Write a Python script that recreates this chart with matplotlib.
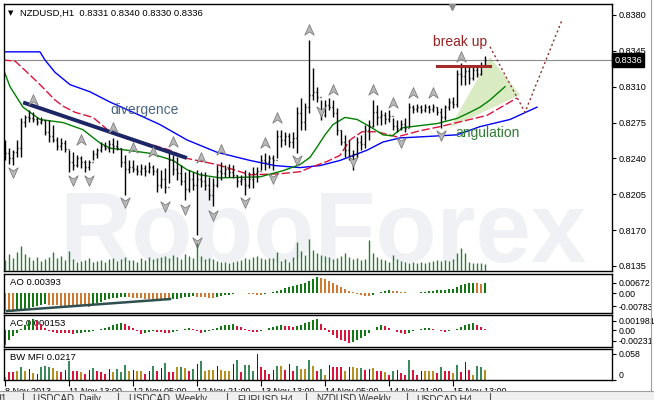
import numpy as np
import matplotlib.pyplot as plt
from matplotlib.path import Path
from matplotlib.patches import Polygon, Rectangle
from matplotlib.lines import Line2D
from matplotlib.transforms import blended_transform_factory

plt.rcParams['font.family'] = ['Liberation Sans', 'DejaVu Sans']

# NZDUSD H1, 121 bars
first_open = 0.8250
highs = [0.8258, 0.8250, 0.8248, 0.8258, 0.8279, 0.8282, 0.8287, 0.8285, 0.8280, 0.8280,
         0.8277, 0.8277, 0.8273, 0.8261, 0.8260, 0.8258, 0.8248, 0.8246, 0.8243, 0.8242,
         0.8238, 0.8238, 0.8248, 0.8250, 0.8256, 0.8256, 0.8258, 0.8260, 0.8258, 0.8250,
         0.8243, 0.8238, 0.8238, 0.8234, 0.8235, 0.8234, 0.8236, 0.8234, 0.8231, 0.8229,
         0.8231, 0.8245, 0.8243, 0.8241, 0.8234, 0.8227, 0.8229, 0.8227, 0.8229, 0.8227,
         0.8227, 0.8222, 0.8221, 0.8234, 0.8236, 0.8234, 0.8235, 0.8234, 0.8224, 0.8224,
         0.8229, 0.8227, 0.8232, 0.8232, 0.8243, 0.8245, 0.8243, 0.8243, 0.8268, 0.8268,
         0.8266, 0.8265, 0.8266, 0.8290, 0.8299, 0.8294, 0.8356, 0.8328, 0.8310, 0.8297,
         0.8297, 0.8299, 0.8297, 0.8289, 0.8268, 0.8263, 0.8258, 0.8248, 0.8261, 0.8263,
         0.8273, 0.8277, 0.8297, 0.8292, 0.8287, 0.8285, 0.8287, 0.8279, 0.8277, 0.8277,
         0.8279, 0.8294, 0.8292, 0.8293, 0.8292, 0.8293, 0.8292, 0.8293, 0.8290, 0.8289,
         0.8292, 0.8299, 0.8300, 0.8326, 0.8333, 0.8331, 0.8331, 0.8331, 0.8331, 0.8334,
         0.8340]
lows = [0.8238, 0.8235, 0.8234, 0.8241, 0.8241, 0.8271, 0.8276, 0.8276, 0.8273, 0.8274,
        0.8263, 0.8256, 0.8256, 0.8248, 0.8248, 0.8246, 0.8227, 0.8229, 0.8232, 0.8231,
        0.8227, 0.8229, 0.8238, 0.8240, 0.8246, 0.8248, 0.8246, 0.8245, 0.8248, 0.8232,
        0.8204, 0.8226, 0.8227, 0.8224, 0.8224, 0.8223, 0.8226, 0.8224, 0.8207, 0.8211,
        0.8206, 0.8216, 0.8224, 0.8219, 0.8214, 0.8199, 0.8207, 0.8209, 0.8165, 0.8212,
        0.8209, 0.8199, 0.8194, 0.8212, 0.8219, 0.8222, 0.8222, 0.8221, 0.8212, 0.8214,
        0.8204, 0.8211, 0.8211, 0.8217, 0.8229, 0.8229, 0.8231, 0.8229, 0.8240, 0.8251,
        0.8253, 0.8251, 0.8250, 0.8245, 0.8268, 0.8268, 0.8284, 0.8297, 0.8295, 0.8277,
        0.8280, 0.8287, 0.8280, 0.8263, 0.8253, 0.8241, 0.8238, 0.8229, 0.8241, 0.8248,
        0.8250, 0.8258, 0.8271, 0.8273, 0.8273, 0.8274, 0.8276, 0.8268, 0.8266, 0.8268,
        0.8266, 0.8271, 0.8284, 0.8285, 0.8284, 0.8285, 0.8284, 0.8285, 0.8282, 0.8270,
        0.8277, 0.8287, 0.8289, 0.8290, 0.8312, 0.8312, 0.8313, 0.8317, 0.8319, 0.8321,
        0.8330]
closes = [0.8245, 0.8240, 0.8246, 0.8250, 0.8276, 0.8280, 0.8279, 0.8278, 0.8276, 0.8277,
          0.8266, 0.8262, 0.8258, 0.8252, 0.8255, 0.8249, 0.8236, 0.8234, 0.8240, 0.8236,
          0.8232, 0.8236, 0.8244, 0.8248, 0.8252, 0.8250, 0.8254, 0.8252, 0.8250, 0.8236,
          0.8230, 0.8232, 0.8230, 0.8228, 0.8231, 0.8228, 0.8232, 0.8228, 0.8214, 0.8220,
          0.8212, 0.8238, 0.8230, 0.8226, 0.8218, 0.8210, 0.8220, 0.8214, 0.8220, 0.8218,
          0.8214, 0.8204, 0.8214, 0.8228, 0.8226, 0.8230, 0.8227, 0.8224, 0.8218, 0.8220,
          0.8214, 0.8220, 0.8226, 0.8228, 0.8238, 0.8236, 0.8240, 0.8238, 0.8262, 0.8258,
          0.8262, 0.8256, 0.8260, 0.8284, 0.8276, 0.8290, 0.8302, 0.8305, 0.8300, 0.8282,
          0.8292, 0.8290, 0.8284, 0.8268, 0.8256, 0.8248, 0.8242, 0.8244, 0.8256, 0.8254,
          0.8268, 0.8272, 0.8285, 0.8280, 0.8282, 0.8278, 0.8281, 0.8272, 0.8270, 0.8274,
          0.8270, 0.8290, 0.8288, 0.8290, 0.8287, 0.8290, 0.8288, 0.8290, 0.8285, 0.8280,
          0.8290, 0.8295, 0.8293, 0.8322, 0.8320, 0.8325, 0.8318, 0.8326, 0.8322, 0.8331,
          0.8336]
volumes = [1100, 1700, 1300, 1900, 2500, 1700, 1400, 1100, 1400, 1000,
           1200, 1400, 1900, 1300, 1500, 1100, 2000, 1200, 900, 1000,
           1100, 1300, 900, 1000, 1100, 900, 1200, 1300, 1000, 1200,
           1400, 1100, 1100, 900, 1300, 1100, 1400, 1200, 1300, 1400,
           1500, 1300, 1600, 1400, 1200, 1700, 1500, 1300, 2800, 1500,
           1200, 1300, 1200, 1000, 900, 900, 800, 900, 1000, 1100,
           1300, 1200, 1400, 1500, 1300, 1200, 1300, 1300, 1900, 1000,
           1200, 900, 1400, 2900, 2000, 1600, 3200, 2100, 1800, 1600,
           1500, 1400, 1200, 1300, 1500, 1800, 1400, 1200, 1300, 1100,
           1200, 3100, 1800, 1400, 1200, 1100, 900, 1600, 1200, 1000,
           900, 800, 900, 800, 900, 800, 900, 1000, 1100, 1000,
           1100, 1000, 1200, 1800, 2300, 1800, 900, 800, 800, 800,
           700]

# alligator lines (shifted forward)
blue_x = [-0.5, 8.75, 10, 12.5, 16.25, 21.25, 26.25, 32, 38.75, 45.5, 53, 61.25,
          67.5, 73.75, 78.75, 83.75, 90.5, 94.5, 98.75, 103.75, 113, 118.75, 126.25, 133]
blue_y = [0.8344, 0.8344, 0.8336, 0.8324, 0.8312, 0.8305, 0.8295, 0.8285, 0.8273, 0.8258,
          0.8246, 0.8238, 0.8233, 0.8231, 0.8233, 0.8238, 0.8248, 0.8256, 0.8260, 0.8261,
          0.8263, 0.8271, 0.8278, 0.8290]
red_x = [-0.5, 2.5, 5, 8.75, 12.5, 14.5, 17.5, 22, 26.25, 31.25, 37, 41.25, 45.5, 53, 61.25,
         68.75, 73.75, 76.25, 80.5, 83.75, 86.25, 89.25, 93, 98, 103.75, 108.75, 113, 116.25,
         120.5, 128]
red_y = [0.8336, 0.8335, 0.8326, 0.8312, 0.8297, 0.8291, 0.8285, 0.8280, 0.8266, 0.8258,
         0.8253, 0.8248, 0.8240, 0.8234, 0.8224, 0.8225, 0.8227, 0.8231, 0.8237, 0.8243,
         0.8258, 0.8266, 0.8266, 0.8261, 0.8267, 0.8271, 0.8275, 0.8278, 0.8282, 0.8299]
green_x = [-0.5, 1.25, 4.5, 8.75, 14.5, 19.5, 23.75, 26.25, 30.5, 36.25, 42, 45.5, 48.75,
           53.75, 63.75, 69.5, 73.75, 76.25, 78, 80, 82, 85, 88, 91.25, 94.5, 96.75, 99.5,
           103.75, 108, 113, 116.25, 118.75, 121.25, 125]
green_y = [0.8328, 0.8310, 0.8290, 0.8278, 0.8275, 0.8268, 0.8255, 0.8250, 0.8248, 0.8245,
           0.8238, 0.8229, 0.8224, 0.8221, 0.8222, 0.8228, 0.8234, 0.8241, 0.8251, 0.8263,
           0.8273, 0.8280, 0.8278, 0.8271, 0.8263, 0.8262, 0.8270, 0.8272, 0.8274, 0.8279,
           0.8285, 0.8290, 0.8297, 0.8310]

# fractals
up_x = [7, 19, 27, 32, 37, 42, 49, 54, 65, 68, 76, 82, 92, 97, 102, 107, 114]
up_y = [0.8297, 0.8258, 0.8270, 0.8250, 0.8246, 0.8256, 0.8240, 0.8248, 0.8255, 0.8279,
        0.8365, 0.8307, 0.8307, 0.8294, 0.8304, 0.8304, 0.8339]
dn_x = [2, 17, 21, 30, 40, 45, 48, 52, 60, 67, 73, 79, 87, 99, 109]
dn_y = [0.8227, 0.8219, 0.8219, 0.8197, 0.8194, 0.8191, 0.8158, 0.8185, 0.8197, 0.8221,
        0.8238, 0.8286, 0.8237, 0.8256, 0.8263]

# indicators
ao = [-0.0112, -0.0115, -0.0116, -0.0112, -0.0105, -0.0099, -0.0093, -0.0087, -0.0081, -0.0074,
      -0.0068, -0.0070, -0.0072, -0.0074, -0.0075, -0.0076, -0.0077, -0.0078, -0.0079, -0.0080,
      -0.0081, -0.0082, -0.0072, -0.0062, -0.0052, -0.0043, -0.0036, -0.0030, -0.0026, -0.0023,
      -0.0020, -0.0023, -0.0026, -0.0029, -0.0031, -0.0033, -0.0035, -0.0037, -0.0038, -0.0039,
      -0.0040, -0.0041, -0.0037, -0.0032, -0.0028, -0.0025, -0.0022, -0.0019, -0.0021, -0.0023,
      -0.0025, -0.0026, -0.0027, -0.0022, -0.0017, -0.0012, -0.0007, -0.0003, 0.0003, 0.0002,
      0.0000, -0.0003, -0.0006, -0.0009, -0.0012, -0.0006, 0.0003, 0.0009, 0.0016, 0.0022,
      0.0031, 0.0037, 0.0043, 0.0050, 0.0056, 0.0065, 0.0074, 0.0087, 0.0099, 0.0096,
      0.0087, 0.0078, 0.0065, 0.0053, 0.0040, 0.0028, 0.0016, 0.0006, -0.0003, -0.0009,
      -0.0015, -0.0018, -0.0009, 0.0000, 0.0009, 0.0016, 0.0019, 0.0016, 0.0012, 0.0009,
      0.0006, 0.0005, 0.0004, 0.0003, 0.0006, 0.0009, 0.0012, 0.0016, 0.0019, 0.0021,
      0.0023, 0.0025, 0.0028, 0.0037, 0.0050, 0.0056, 0.0062, 0.0064, 0.0062, 0.0061,
      0.0063]
ac = [-0.00330, -0.00220, -0.00132, -0.00066, 0.00022, 0.00110, 0.00198, 0.00242, 0.00198, 0.00132,
      0.00044, -0.00022, -0.00044, -0.00055, -0.00066, -0.00070, -0.00075, -0.00077, -0.00066, -0.00055,
      -0.00044, -0.00033, -0.00011, 0.00011, 0.00033, 0.00055, 0.00077, 0.00110, 0.00143, 0.00165,
      0.00132, 0.00088, 0.00044, -0.00022, -0.00088, -0.00066, -0.00044, -0.00022, -0.00033, -0.00044,
      -0.00055, -0.00066, -0.00044, -0.00022, 0.00011, 0.00033, 0.00055, 0.00033, -0.00011, -0.00066,
      -0.00044, -0.00011, 0.00022, 0.00055, 0.00088, 0.00110, 0.00121, 0.00132, 0.00099, 0.00066,
      0.00022, -0.00022, -0.00033, -0.00044, -0.00022, 0.00011, 0.00044, 0.00066, 0.00088, 0.00110,
      0.00099, 0.00088, 0.00066, 0.00088, 0.00121, 0.00154, 0.00187, 0.00220, 0.00242, 0.00132,
      0.00044, -0.00044, -0.00110, -0.00176, -0.00220, -0.00242, -0.00275, -0.00264, -0.00220, -0.00176,
      -0.00121, -0.00066, 0.00000, 0.00066, 0.00110, 0.00088, 0.00055, 0.00011, -0.00033, -0.00066,
      -0.00077, -0.00055, -0.00022, 0.00000, 0.00033, 0.00044, 0.00055, 0.00033, 0.00011, -0.00011,
      -0.00033, -0.00022, 0.00000, 0.00033, 0.00077, 0.00121, 0.00143, 0.00154, 0.00110, 0.00066,
      0.00022]
mfi = [0.007, 0.018, 0.018, 0.020, 0.029, 0.020, 0.025, 0.016, 0.013, 0.029,
       0.031, 0.029, 0.027, 0.020, 0.018, 0.022, 0.042, 0.020, 0.020, 0.018,
       0.013, 0.022, 0.027, 0.020, 0.018, 0.013, 0.025, 0.018, 0.025, 0.018,
       0.033, 0.020, 0.022, 0.020, 0.020, 0.013, 0.020, 0.031, 0.020, 0.027,
       0.038, 0.018, 0.018, 0.029, 0.029, 0.027, 0.020, 0.025, 0.036, 0.042,
       0.020, 0.022, 0.022, 0.031, 0.022, 0.020, 0.020, 0.036, 0.045, 0.018,
       0.033, 0.033, 0.020, 0.058, 0.029, 0.022, 0.013, 0.022, 0.031, 0.031,
       0.022, 0.036, 0.020, 0.031, 0.025, 0.025, 0.045, 0.031, 0.020, 0.025,
       0.011, 0.033, 0.029, 0.029, 0.029, 0.020, 0.029, 0.029, 0.027, 0.027,
       0.022, 0.025, 0.027, 0.020, 0.020, 0.018, 0.011, 0.020, 0.022, 0.016,
       0.011, 0.045, 0.022, 0.011, 0.020, 0.020, 0.020, 0.020, 0.016, 0.029,
       0.020, 0.020, 0.016, 0.033, 0.018, 0.040, 0.022, 0.011, 0.031, 0.029,
       0.022]
# g = green, o = fade, b = fake, r = squat, x = first bar
mfi_codes = ("xrrogobobg" "ggoorbgrro" "rbgrrrbogg" "goboorbgrb" "grrogorgbg"
             "ooobooobgr" "gggbrrrbgo" "rbrgoogorg" "obrrroboog" "rborrorgbr"
             "rgrrbooorg" "rrogrbrogg" "o")

date_ticks = [0, 16, 32, 48, 64, 80, 96, 112]
date_labels = ['8 Nov 2013', '11 Nov 13:00', '12 Nov 05:00', '12 Nov 21:00',
               '13 Nov 13:00', '14 Nov 05:00', '14 Nov 21:00', '15 Nov 13:00']
price_ticks = [0.8135, 0.8170, 0.8205, 0.8240, 0.8275, 0.8310, 0.8345, 0.8380]
tabs = ['H1', 'USDCAD, Daily', 'USDCAD, Weekly', 'EURUSD,H4', 'NZDUSD,Weekly', 'USDCAD,H4']

W, H = 654, 400
fig = plt.figure(figsize=(W / 100, H / 100), dpi=100)
fig.patch.set_facecolor('white')


def panel(y0, y1):
    a = fig.add_axes([3.5 / W, 1 - y1 / H, (612 - 3.5) / W, (y1 - y0) / H])
    a.set_xlim(-0.375, 151.75)
    a.set_xticks([])
    for s in a.spines.values():
        s.set_linewidth(1.0)
    return a


def right_ticks(a, size=6.6):
    a.yaxis.tick_right()
    a.tick_params(axis='y', left=False, right=True, labelleft=False, labelright=True,
                  length=3, width=0.8, pad=2, labelsize=size)


idx = np.arange(len(closes))
opens = [first_open] + closes[:-1]

# ---- price window
ax = panel(4, 271)
ax.set_ylim(0.81301, 0.83907)

axv = ax.twinx()
axv.set_ylim(0, 26700)
axv.vlines(idx, 0, volumes, color='#2a7d2a', lw=1)
axv.axis('off')

right_ticks(ax)
ax.set_yticks(price_ticks)
ax.set_yticklabels(['%.4f' % p for p in price_ticks])

# watermark
ax.text(13.5, 0.8139, 'RoboForex', fontsize=72, fontweight='bold', color='#eff1f5',
        zorder=0, clip_on=True)

ax.add_patch(Polygon([(121.25, 0.8339), (128.75, 0.8302), (111.25, 0.8270)],
                     closed=True, fc='#d9ebc3', ec='none', zorder=1))
ax.axhline(0.8336, color='#8c8c8c', lw=0.8, zorder=1)

ax.plot(blue_x, blue_y, color='#0000ff', lw=1, zorder=2)
ax.plot(red_x, red_y, color='#dc143c', lw=1, ls=(0, (6, 2)), zorder=2)
ax.plot(green_x, green_y, color='#008000', lw=1, zorder=2)

ax.vlines(idx, lows, highs, color='black', lw=1, zorder=3)
ax.hlines(opens, idx - 0.3, idx, color='black', lw=1, zorder=3)
ax.hlines(closes, idx, idx + 0.3, color='black', lw=1, zorder=3)

up_arrow = Path([(0, 1), (0.8, -0.8), (0, -0.25), (-0.8, -0.8), (0, 1)],
                [Path.MOVETO, Path.LINETO, Path.LINETO, Path.LINETO, Path.CLOSEPOLY])
dn_arrow = Path([(0, -1), (0.8, 0.8), (0, 0.25), (-0.8, 0.8), (0, -1)],
                [Path.MOVETO, Path.LINETO, Path.LINETO, Path.LINETO, Path.CLOSEPOLY])
ax.plot(up_x, up_y, ls='none', marker=up_arrow, ms=8.5, mfc='#b8b8b8', mec='#707070',
        mew=0.5, zorder=4)
ax.plot(dn_x, dn_y, ls='none', marker=dn_arrow, ms=8.5, mfc='#b8b8b8', mec='#707070',
        mew=0.5, zorder=4)
ax.plot([111.75], [0.8388], ls='none', marker='v', ms=5, color='#8c8c8c', zorder=4)

# drawn analysis
ax.plot([5, 45], [0.8294, 0.8241], color='#1c2566', lw=2.8, zorder=3)
ax.plot([108, 121.25], [0.8330, 0.8330], color='#a52a2a', lw=2.2, zorder=3)
ax.plot([121.25, 130, 139.25], [0.8349, 0.8285, 0.8375], color='#8b3030', lw=1,
        ls=(0, (1.5, 2)), zorder=3)
ax.text(26.25, 0.8287, 'divergence', fontsize=10, color='#4a6680', va='center', zorder=5)
ax.text(107, 0.8354, 'break up', fontsize=10, color='#962222', va='center', zorder=5)
ax.text(112.5, 0.8265, 'angulation', fontsize=10, color='#2f7d32', va='center', zorder=5)

tr = blended_transform_factory(ax.transAxes, ax.transData)
ax.text(1.004, 0.8336, '0.8336', transform=tr, fontsize=6.6, color='white', va='center',
        bbox=dict(boxstyle='square,pad=0.25', fc='black', ec='black'), zorder=6, clip_on=False)

fig.text(8 / W, 1 - 13 / H, '\u25bc', fontsize=5, va='center', family='DejaVu Sans')
fig.text(20 / W, 1 - 13 / H, 'NZDUSD,H1  0.8331 0.8340 0.8330 0.8336', fontsize=6.8,
         va='center')

# ---- Awesome Oscillator
ax_ao = panel(274, 313)
right_ticks(ax_ao, 6.3)
ax_ao.set_ylim(-0.01215, 0.01203)
ao_col = ['#d07a30'] + ['#137a13' if ao[i] > ao[i - 1] else '#d07a30' for i in range(1, len(ao))]
ax_ao.bar(idx, ao, width=0.7, color=ao_col, zorder=2)
ax_ao.plot([0.5, 41.25], [-0.0109, -0.0035], color='#2f4f4f', lw=1.8, zorder=3)
ax_ao.set_yticks([-0.00783, 0, 0.00672])
ax_ao.set_yticklabels(['-0.00783', '0.00', '0.00672'])
ax_ao.text(0.0107, 0.77, 'AO 0.00393', transform=ax_ao.transAxes, fontsize=6.8, va='center',
           zorder=1)

# ---- Accelerator Oscillator
ax_ac = panel(315, 347)
right_ticks(ax_ac, 6.3)
ax_ac.set_ylim(-0.00374, 0.0033)
ac_col = ['#137a13'] + ['#137a13' if ac[i] > ac[i - 1] else '#dc143c' for i in range(1, len(ac))]
ax_ac.bar(idx, ac, width=0.7, color=ac_col, zorder=2)
ax_ac.set_yticks([-0.00231, 0, 0.001981])
ax_ac.set_yticklabels(['-0.00231', '0.00', '0.001981'])
ax_ac.text(0.0107, 0.72, 'AC 0.000153', transform=ax_ac.transAxes, fontsize=6.8, va='center',
           zorder=1)

# ---- BW Market Facilitation Index
ax_m = panel(349, 380)
right_ticks(ax_m, 6.3)
ax_m.set_ylim(0, 0.069)
cmap = {'g': '#3a8a5c', 'o': '#b8901f', 'r': '#dc143c', 'b': '#191970', 'x': '#909090'}
mfi_col = [cmap[c] for c in mfi_codes]
mfi_w = [0.25 if c == 'b' else 0.7 for c in mfi_codes]
ax_m.bar(idx, mfi, width=mfi_w, color=mfi_col, zorder=2)
ax_m.set_yticks([0, 0.058])
ax_m.set_yticklabels(['0', '0.058'])
ax_m.get_yticklabels()[0].set_va('bottom')
ax_m.text(0.0107, 0.71, 'BW MFI 0.0217', transform=ax_m.transAxes, fontsize=6.8, va='center',
          zorder=1)
ax_m.set_xticks(date_ticks)
ax_m.set_xticklabels(date_labels, ha='left', fontsize=6.5)
ax_m.tick_params(axis='x', length=4, width=0.8, pad=1)

# ---- tab bar
fig.add_artist(Rectangle((0, 0), 1, 9 / H, transform=fig.transFigure, fc='#f0f0f0',
                         ec='none', zorder=10))
fig.add_artist(Line2D([0, 1], [9 / H, 9 / H], transform=fig.transFigure, color='#a0a0a0',
                      lw=0.8, zorder=11))
tab_x = [-6, 33, 129, 237, 316, 416]
for tx, t in zip(tab_x, tabs):
    fig.text(tx / W, 1 / H, t, fontsize=7, color='#333333', va='center', zorder=12)
for dx in [23, 118, 227, 306, 407, 490]:
    fig.add_artist(Line2D([dx / W, dx / W], [0, 7 / H], transform=fig.transFigure,
                          color='#555555', lw=0.8, zorder=12))
fig.add_artist(Line2D([651 / W, 651 / W], [9 / H, 1], transform=fig.transFigure,
                      color='#a0a0a0', lw=0.8, zorder=11))

fig.savefig('out.png', dpi=100)
